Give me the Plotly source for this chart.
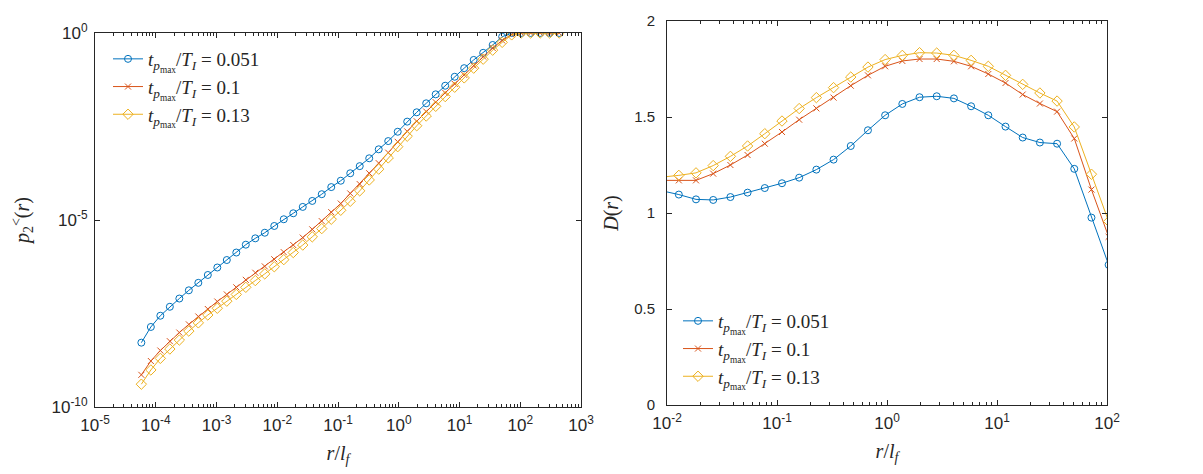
import plotly.graph_objects as go

# r / l_f grid (shared by both panels)
r = [5.794e-5, 8.304e-5, 1.190e-4, 1.706e-4, 2.445e-4, 3.504e-4, 5.022e-4, 7.197e-4,
     1.031e-3, 1.478e-3, 2.118e-3, 3.036e-3, 4.351e-3, 6.235e-3, 8.937e-3, 1.281e-2,
     1.835e-2, 2.630e-2, 3.770e-2, 5.403e-2, 7.745e-2, 0.1110, 0.1591, 0.2280,
     0.3267, 0.4683, 0.6711, 0.9618, 1.378, 1.976, 2.831, 4.058, 5.816, 8.335,
     11.95, 17.12, 24.54, 35.17, 50.40, 72.23, 103.5, 148.4, 212.6, 304.8, 436.8]

# log10 of p2^<(r) for each case
log10_p2_t051 = [-8.28, -7.86, -7.56, -7.32, -7.10, -6.88, -6.68, -6.47, -6.27, -6.07,
                 -5.87, -5.66, -5.49, -5.34, -5.16, -4.98, -4.82, -4.65, -4.49, -4.31,
                 -4.12, -3.95, -3.75, -3.56, -3.35, -3.11, -2.89, -2.64, -2.37, -2.12,
                 -1.88, -1.64, -1.41, -1.17, -0.94, -0.72, -0.53, -0.32, -0.10, 0.0,
                 0.0, 0.0, 0.0, 0.0, 0.0]
log10_p2_t10 = [-9.14, -8.77, -8.49, -8.24, -8.01, -7.79, -7.58, -7.38, -7.18, -6.99,
                -6.80, -6.60, -6.41, -6.24, -6.05, -5.86, -5.67, -5.47, -5.25, -5.03,
                -4.79, -4.56, -4.29, -4.04, -3.75, -3.48, -3.20, -2.91, -2.63, -2.36,
                -2.10, -1.85, -1.60, -1.36, -1.12, -0.87, -0.63, -0.40, -0.20, -0.04,
                0.0, 0.0, 0.0, 0.0, 0.0]
log10_p2_t13 = [-9.39, -9.01, -8.70, -8.45, -8.21, -7.97, -7.75, -7.54, -7.36, -7.17,
                -6.99, -6.80, -6.62, -6.44, -6.25, -6.06, -5.87, -5.67, -5.45, -5.23,
                -4.98, -4.74, -4.50, -4.22, -3.93, -3.64, -3.34, -3.04, -2.76, -2.48,
                -2.22, -1.96, -1.70, -1.45, -1.20, -0.94, -0.70, -0.46, -0.25, -0.05,
                0.0, 0.0, 0.0, 0.0, 0.0]

# D(r) on r[14:41]
r_D = r[14:41]
D_t051 = [1.116, 1.096, 1.071, 1.068, 1.083, 1.106, 1.130, 1.155, 1.184, 1.226, 1.278,
          1.349, 1.431, 1.509, 1.568, 1.603, 1.608, 1.597, 1.556, 1.509, 1.450, 1.393,
          1.367, 1.361, 1.230, 0.976, 0.730]
D_t10 = [1.170, 1.170, 1.170, 1.205, 1.250, 1.302, 1.361, 1.422, 1.486, 1.545, 1.601,
         1.663, 1.717, 1.764, 1.792, 1.802, 1.802, 1.790, 1.764, 1.724, 1.677, 1.617,
         1.570, 1.528, 1.388, 1.122, 0.876]
D_t13 = [1.187, 1.196, 1.209, 1.247, 1.295, 1.349, 1.413, 1.479, 1.544, 1.601, 1.653,
         1.708, 1.760, 1.799, 1.821, 1.835, 1.833, 1.821, 1.795, 1.764, 1.717, 1.670,
         1.625, 1.583, 1.448, 1.202, 0.956]

names = [
    "<i>t</i><sub><i>p</i><sub>max</sub></sub>/<i>T</i><sub><i>I</i></sub> = 0.051",
    "<i>t</i><sub><i>p</i><sub>max</sub></sub>/<i>T</i><sub><i>I</i></sub> = 0.1",
    "<i>t</i><sub><i>p</i><sub>max</sub></sub>/<i>T</i><sub><i>I</i></sub> = 0.13",
]
colors = ["#0072BD", "#D95319", "#EDB120"]
symbols = ["circle-open", "x-thin-open", "diamond-open"]
sizes = [7, 6, 8]

fig = go.Figure()
left_sets = [log10_p2_t051, log10_p2_t10, log10_p2_t13]
right_sets = [D_t051, D_t10, D_t13]
for i in range(3):
    fig.add_trace(go.Scatter(
        x=r, y=[10 ** v for v in left_sets[i]], mode="lines+markers", name=names[i],
        line=dict(color=colors[i], width=1),
        marker=dict(symbol=symbols[i], size=sizes[i], color=colors[i],
                    line=dict(width=1, color=colors[i])),
        xaxis="x", yaxis="y", legend="legend"))
for i in range(3):
    fig.add_trace(go.Scatter(
        x=r_D, y=right_sets[i], mode="lines+markers", name=names[i],
        line=dict(color=colors[i], width=1),
        marker=dict(symbol=symbols[i], size=sizes[i], color=colors[i],
                    line=dict(width=1, color=colors[i])),
        xaxis="x2", yaxis="y2", legend="legend2"))

W, H = 1203, 474
axcol = "#262626"
logfont = dict(family="Liberation Sans, Arial", size=17, color=axcol)
linfont = dict(family="Liberation Sans, Arial", size=15, color=axcol)
titlefont = dict(family="Liberation Serif, Times New Roman", size=20, color=axcol)
legfont = dict(family="Liberation Serif, Times New Roman", size=19, color=axcol)

def sup_labels(exps):
    return [f"10<sup>{e}</sup>" for e in exps]

common = dict(showline=True, linecolor=axcol, linewidth=1, mirror="allticks",
              ticks="inside", ticklen=5, tickcolor=axcol, showgrid=False,
              zeroline=False)
minor = dict(ticks="inside", ticklen=3, tickcolor=axcol, dtick="D1", showgrid=False)

fig.update_layout(
    width=W, height=H, template="none",
    margin=dict(l=0, r=0, t=0, b=0),
    paper_bgcolor="white", plot_bgcolor="white",
    showlegend=True,
    xaxis=dict(type="log", domain=[95 / W, 581 / W], range=[-5, 3], anchor="y",
               tickvals=[10 ** e for e in range(-5, 4)],
               ticktext=sup_labels(range(-5, 4)), tickfont=logfont,
               ticklabelstandoff=3, minor=minor,
               title=dict(text="<i>r</i>/<i>l</i><sub><i>f</i></sub>", font=titlefont, standoff=11),
               **common),
    yaxis=dict(type="log", domain=[1 - 407 / H, 1 - 33 / H], range=[-10, 0], anchor="x",
               tickvals=[1e-10, 1e-5, 1], ticktext=sup_labels([-10, -5, 0]),
               tickfont=logfont, ticklabelstandoff=3,
               title=dict(text="<i>p</i><sub>2</sub><sup>&lt;</sup>(<i>r</i>)", font=titlefont, standoff=16),
               **common),
    xaxis2=dict(type="log", domain=[667 / W, 1107 / W], range=[-2, 2], anchor="y2",
                tickvals=[10 ** e for e in range(-2, 3)],
                ticktext=sup_labels(range(-2, 3)), tickfont=logfont,
                ticklabelstandoff=3, minor=minor,
                title=dict(text="<i>r</i>/<i>l</i><sub><i>f</i></sub>", font=titlefont, standoff=11),
                **common),
    yaxis2=dict(domain=[1 - 405 / H, 1 - 21 / H], range=[0, 2], anchor="x2",
                tickvals=[0, 0.5, 1, 1.5, 2], ticktext=["0", "0.5", "1", "1.5", "2"],
                tickfont=linfont, ticklabelstandoff=8,
                title=dict(text="<i>D</i>(<i>r</i>)", font=titlefont, standoff=10),
                **common),
    legend=dict(x=108 / W, y=1 - 40 / H, xanchor="left", yanchor="top",
                bgcolor="rgba(255,255,255,0)", borderwidth=0, itemwidth=30,
                font=legfont),
    legend2=dict(x=678 / W, y=1 - 302 / H, xanchor="left", yanchor="top",
                 bgcolor="rgba(255,255,255,0)", borderwidth=0, itemwidth=30,
                 font=legfont),
)

fig.write_html("out.html")
